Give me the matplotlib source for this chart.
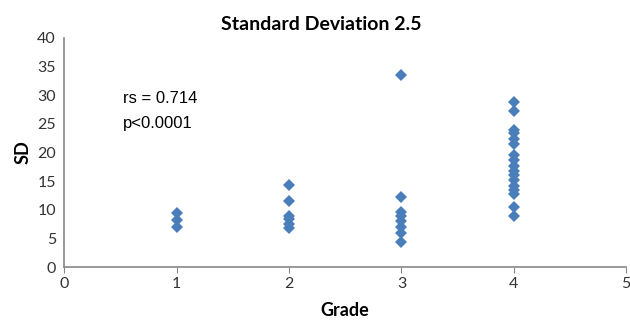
import matplotlib.pyplot as plt

# grade of each group and SD values
grade1 = [9.5, 8.3, 7.0]
grade2 = [14.4, 11.5, 9.0, 8.4, 7.6, 6.9]
grade3 = [33.5, 12.2, 9.6, 9.0, 8.0, 7.0, 6.0, 4.3]
grade4 = [28.8, 27.3, 24.0, 23.4, 22.4, 21.5, 19.6, 18.6, 17.6, 16.8,
          16.0, 15.2, 14.2, 13.5, 12.8, 10.4, 9.0]
groups = [grade1, grade2, grade3, grade4]
xticks = [0, 1, 2, 3, 4, 5]
yticks = list(range(0, 41, 5))

plt.rcParams['font.family'] = ['Lato', 'DejaVu Sans']

fig = plt.figure(figsize=(6.3, 3.21), dpi=100)
ax = fig.add_axes([0.102, 0.168, 0.892, 0.714])

color = '#4a7ebb'
for g, vals in enumerate(groups, start=1):
    ax.plot([g] * len(vals), vals, linestyle='none', marker='D',
            markersize=6.4, color=color, markeredgewidth=0)

ax.set_xlim(0, 5)
ax.set_ylim(0, 40)
ax.set_xticks(xticks)
ax.set_yticks(yticks)
ax.tick_params(axis='both', labelsize=11.5, colors='#333333')
ax.tick_params(axis='y', length=0, pad=6)
ax.tick_params(axis='x', length=4, direction='out', color='#888888', pad=3)
for side in ['top', 'right']:
    ax.spines[side].set_visible(False)
for side in ['left', 'bottom']:
    ax.spines[side].set_color('#888888')
    ax.spines[side].set_linewidth(1.2)

ax.set_xlabel('Grade', fontsize=13, fontweight='bold', labelpad=8)
ax.set_ylabel('SD', fontsize=13, fontweight='bold', labelpad=4)
fig.text(0.51, 0.925, 'Standard Deviation 2.5', ha='center', va='center',
         fontsize=14, fontweight='bold')

ax.text(0.52, 29.5, 'rs = 0.714', fontsize=12, va='center',
        family=['Liberation Sans', 'DejaVu Sans'])
ax.text(0.52, 25.0, 'p<0.0001', fontsize=12, va='center',
        family=['Liberation Sans', 'DejaVu Sans'])

fig.savefig('out.png', dpi=100)
